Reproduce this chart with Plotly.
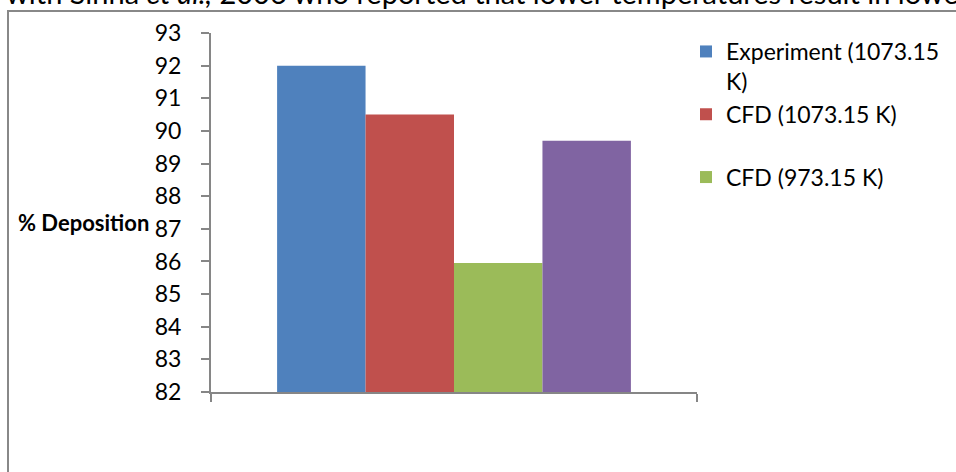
import plotly.graph_objects as go

category = ["Deposition"]
series_names = ["Experiment (1073.15<br>K)", "CFD (1073.15 K)<br> ", "CFD (973.15 K)", "CFD (873.15 K)"]
series_values = [92.0, 90.5, 85.95, 89.7]
series_colors = ["#4F81BD", "#C0504D", "#9BBB59", "#8064A2"]
show_in_legend = [True, True, True, False]
y_ticks = list(range(82, 94))

FONT = "Lato"

fig = go.Figure()
for name, val, col, sl in zip(series_names, series_values, series_colors, show_in_legend):
    fig.add_trace(go.Bar(x=category, y=[val], name=name, marker=dict(color=col, line=dict(width=0)),
                         showlegend=sl))

W, H = 956, 472
L, R, T, B = 211, 259, 33, 80
pw, ph = W - L - R, H - T - B

def px(x):
    return (x - L) / pw

def py(y):
    return (H - B - y) / ph

fig.update_layout(
    width=W, height=H,
    margin=dict(l=L, r=R, t=T, b=B, pad=0, autoexpand=False),
    paper_bgcolor="white", plot_bgcolor="white",
    barmode="group", bargap=0.272, bargroupgap=0,
    font=dict(family=FONT, size=23, color="black"),
    showlegend=True,
    legend=dict(x=px(686), y=py(30), xanchor="left", yanchor="top",
                valign="top", font=dict(family=FONT, size=23, color="black"),
                bgcolor="rgba(0,0,0,0)", itemwidth=30, tracegroupgap=0),
    xaxis=dict(showticklabels=False, ticks="outside", tickson="boundaries", ticklen=8,
               tickcolor="#868686", tickwidth=2, showline=True, linecolor="#868686", linewidth=2,
               showgrid=False, zeroline=False),
    yaxis=dict(range=[82, 93], tickvals=y_ticks, ticks="outside", ticklen=8,
               tickcolor="#868686", tickwidth=2, showline=True, linecolor="#868686", linewidth=2,
               showgrid=False, zeroline=False, ticklabelstandoff=15,
               tickfont=dict(family=FONT, size=23, color="black")),
    shapes=[dict(type="rect", xref="paper", yref="paper",
                 x0=px(8), x1=px(1100), y0=py(700), y1=py(11),
                 line=dict(color="#888888", width=2), fillcolor="rgba(0,0,0,0)", layer="below")],
    annotations=[
        dict(text="<b>% Deposition</b>", xref="paper", yref="paper", x=px(16), y=py(222),
             xanchor="left", yanchor="middle", showarrow=False,
             font=dict(family=FONT, size=22, color="black")),
        dict(text="with Sinha <i>et al.,</i> 2006 who reported that lower temperatures result in lower deposition",
             xref="paper", yref="paper", x=px(4), y=py(-7), xanchor="left", yanchor="middle",
             showarrow=False, font=dict(family=FONT, size=29, color="black")),
    ],
)

fig.write_html("out.html")
